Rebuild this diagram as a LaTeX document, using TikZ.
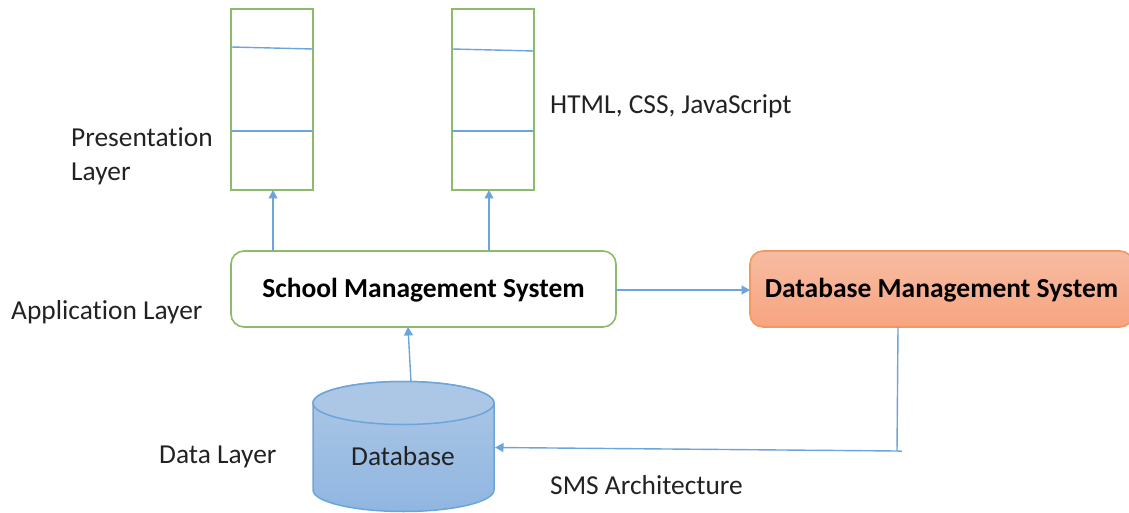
\documentclass[tikz,border=0pt]{standalone}
\usepackage{fontspec}
\setmainfont[Ligatures=NoCommon]{Carlito}
\usetikzlibrary{arrows.meta}
\definecolor{gline}{HTML}{8DBB6C}
\definecolor{bline}{HTML}{6BA5DB}
\definecolor{oline}{HTML}{F2995F}
\definecolor{tcol}{HTML}{222222}
\definecolor{otop}{HTML}{F7BCA2}
\definecolor{obot}{HTML}{F7A480}
\definecolor{dtop}{HTML}{ACC7E5}
\definecolor{dbot}{HTML}{90B6E1}
\tikzset{
  layerbox/.style={draw=gline,line width=1.6pt,rectangle,inner sep=0pt,fill=white},
  sysbox/.style={rectangle,rounded corners=13pt,inner sep=0pt,line width=1.6pt,text height=20pt,text depth=4pt,font=\bfseries\fontsize{27.5}{30}\selectfont,text=black},
  lbl/.style={inner sep=0pt,anchor=base west,text=tcol,font=\fontsize{27.4}{34}\selectfont,align=left},
  conn/.style={draw=bline,line width=1.4pt},
  arr/.style={conn,-{Triangle[length=8.5pt,width=9pt]}}
}
\begin{document}
\begin{tikzpicture}[x=1pt,y=-1pt]
\useasboundingbox (0,0) rectangle (1129,513);
% boxes
\node[layerbox,minimum width=82pt,minimum height=181pt] (b1) at (272,99.5) {};
\node[layerbox,minimum width=82pt,minimum height=181pt] (b2) at (493,99.5) {};
\coordinate (b1a) at (231,47); \coordinate (b1b) at (313,49);
\coordinate (b1c) at (231,131); \coordinate (b1d) at (313,131);
\coordinate (b2a) at (452,49); \coordinate (b2b) at (534,51);
\coordinate (b2c) at (452,131); \coordinate (b2d) at (534,131);
\draw[conn] (b1a) -- (b1b);
\draw[conn] (b1c) -- (b1d);
\draw[conn] (b2a) -- (b2b);
\draw[conn] (b2c) -- (b2d);
% systems
\node[sysbox,draw=gline,fill=white,minimum width=385pt,minimum height=76pt] (sms) at (423.5,289) {School Management System};
\node[sysbox,draw=oline,top color=otop,bottom color=obot,minimum width=383pt,minimum height=76pt] (dbms) at (941.5,289) {Database Management System};
% database
\path[draw=bline,line width=1.5pt,top color=dtop,bottom color=dbot]
  (313,403) -- (313,490) arc[start angle=180,end angle=360,x radius=90.5pt,y radius=21.5pt] -- (494,403)
  arc[start angle=0,end angle=180,x radius=90.5pt,y radius=21.5pt] -- cycle;
\path[draw=bline,line width=1.5pt,fill=dtop]
  (403.5,403) ellipse[x radius=90.5pt,y radius=21.5pt];
\node[rectangle,inner sep=0pt,minimum width=181pt,minimum height=112pt,text=tcol,font=\fontsize{27.4}{30}\selectfont] (db) at (403,456) {Database};
% connectors
\coordinate (s1) at (273,251); \coordinate (t1) at (273,190);
\draw[arr] (s1) -- (t1);
\coordinate (s2) at (489,251); \coordinate (t2) at (489,190);
\draw[arr] (s2) -- (t2);
\coordinate (s3) at (616,290); \coordinate (t3) at (750,290);
\draw[arr] (s3) -- (t3);
\coordinate (s4) at (411,382); \coordinate (t4) at (408,327);
\draw[arr] (s4) -- (t4);
\coordinate (s5) at (898,327); \coordinate (c5) at (897,451); \coordinate (e5) at (902,451.3); \coordinate (t5) at (495,447.5);
\draw[conn] (s5) -- (c5);
\draw[arr] (e5) -- (c5) -- (t5);
% labels
\node[lbl,text width=160pt] (pl) at (71,147) {Presentation\\[-0.6pt]Layer};
\node[lbl] (hc) at (550,114) {HTML, CSS, JavaScript};
\node[lbl] (al) at (11,319) {Application Layer};
\node[lbl] (dl) at (159,463) {Data Layer};
\node[lbl] (sa) at (550,494) {SMS Architecture};
\end{tikzpicture}
\end{document}
